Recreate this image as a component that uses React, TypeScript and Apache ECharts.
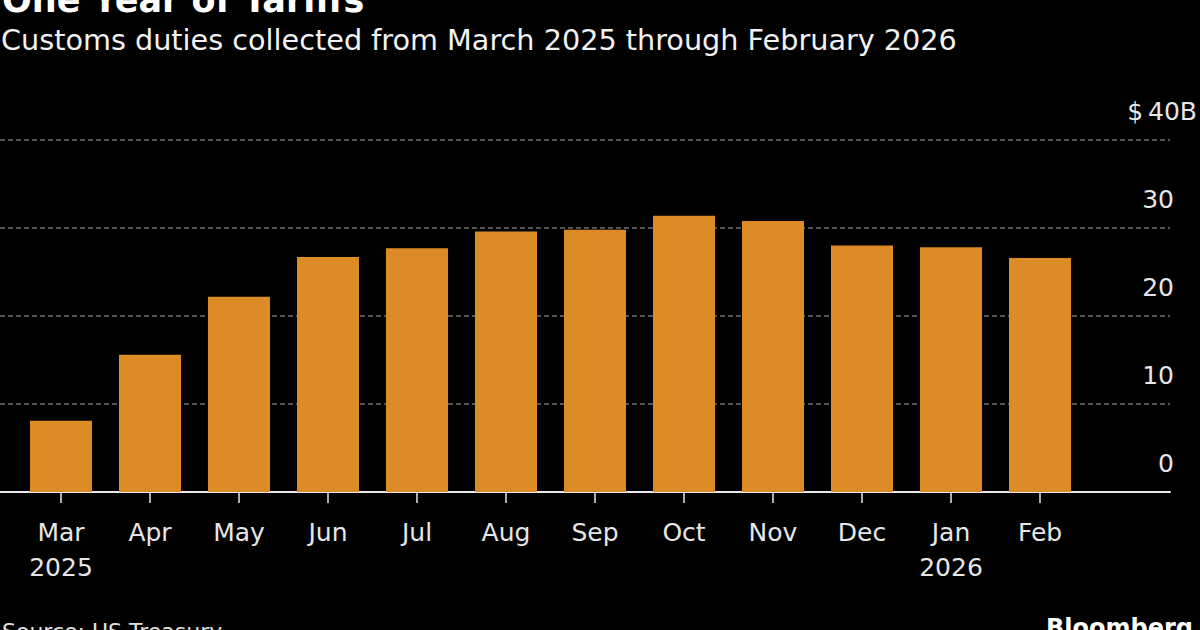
import React, { useEffect, useRef } from "react";
import * as echarts from "echarts";

const months = ["Mar", "Apr", "May", "Jun", "Jul", "Aug", "Sep", "Oct", "Nov", "Dec", "Jan", "Feb"];
const years = ["2025", "", "", "", "", "", "", "", "", "", "2026", ""];
const duties = [8.1, 15.6, 22.2, 26.7, 27.7, 29.6, 29.8, 31.4, 30.8, 28.0, 27.8, 26.6];
const yMin = 0;
const yMax = 40;
const yStep = 10;

const titleText = "One Year of Tariffs";
const subtitleText = "Customs duties collected from March 2025 through February 2026";
const sourceText = "Source: US Treasury";
const brandText = "Bloomberg";

const FONT = "DejaVu Sans";

export default function App() {
  const ref = useRef<HTMLDivElement>(null);

  useEffect(() => {
    if (!ref.current) return;
    const chart = echarts.init(ref.current, null, { renderer: "svg" });
    const categories = months.map((m, i) => (years[i] ? `${m}\n${years[i]}` : m));
    const gridTop = 140;
    const gridBottom = 138;

    chart.setOption({
      animation: false,
      backgroundColor: "#000000",
      textStyle: { fontFamily: FONT },
      grid: [
        { left: 0, right: 27, top: gridTop, bottom: gridBottom },
        { left: 16.5, right: 115.5, top: gridTop, bottom: gridBottom },
      ],
      xAxis: [
        {
          gridIndex: 0,
          type: "category",
          data: [""],
          axisLine: { show: true, lineStyle: { color: "#e8e8e8", width: 2 } },
          axisTick: { show: false },
          axisLabel: { show: false },
          splitLine: { show: false },
        },
        {
          gridIndex: 1,
          type: "category",
          data: categories,
          axisLine: { show: false },
          axisTick: {
            show: true,
            alignWithLabel: true,
            interval: 0,
            length: 11,
            lineStyle: { color: "#e8e8e8", width: 1.5 },
          },
          axisLabel: {
            interval: 0,
            color: "#e6e6e6",
            fontFamily: FONT,
            fontSize: 25,
            lineHeight: 35,
            margin: 23,
          },
        },
      ],
      yAxis: [
        {
          gridIndex: 0,
          type: "value",
          position: "right",
          min: yMin,
          max: yMax,
          interval: yStep,
          axisLine: { show: false },
          axisTick: { show: false },
          splitLine: {
            show: true,
            lineStyle: { color: "#6f6f6f", width: 1.5, type: [5, 3] },
          },
          axisLabel: {
            inside: false,
            align: "right",
            verticalAlign: "bottom",
            margin: 27,
            padding: [0, 0, 16, 0],
            color: "#e6e6e6",
            fontFamily: FONT,
            fontSize: 25,
            formatter: (v: number) => (v === yMax ? `{t|$\u2009${v}B}` : `{n|${v}}`),
            rich: {
              t: { fontSize: 25, fontFamily: FONT, color: "#e6e6e6" },
              n: { fontSize: 25, fontFamily: FONT, color: "#e6e6e6", padding: [0, 23, 0, 0] },
            },
          },
        },
        {
          gridIndex: 1,
          type: "value",
          min: yMin,
          max: yMax,
          interval: yStep,
          show: false,
          splitLine: { show: false },
        },
      ],
      series: [
        {
          type: "bar",
          xAxisIndex: 1,
          yAxisIndex: 1,
          data: duties,
          barWidth: 62,
          itemStyle: { color: "#dc8b27" },
          z: 1,
        },
      ],
      graphic: [
        {
          type: "text",
          left: 2,
          top: -17.5,
          style: { text: titleText, fill: "#ffffff", fontFamily: FONT, fontSize: 35, fontWeight: "bold" },
        },
        {
          type: "text",
          x: 1,
          y: 40,
          style: {
            text: subtitleText,
            fill: "#f2f2f2",
            fontFamily: FONT,
            fontSize: 28.7,
            verticalAlign: "middle",
          },
        },
        {
          type: "text",
          x: 2,
          y: 631,
          style: { text: sourceText, fill: "#e0e0e0", fontFamily: FONT, fontSize: 22, verticalAlign: "middle" },
        },
        {
          type: "text",
          x: 1193,
          y: 628,
          style: {
            text: brandText,
            fill: "#ffffff",
            fontFamily: FONT,
            fontSize: 24,
            fontWeight: "bold",
            align: "right",
            verticalAlign: "middle",
          },
        },
      ],
    });
    return () => chart.dispose();
  }, []);

  return (
    <div
      ref={ref}
      style={{ position: "fixed", left: 0, top: 0, width: 1200, height: 630, background: "#000" }}
    />
  );
}
